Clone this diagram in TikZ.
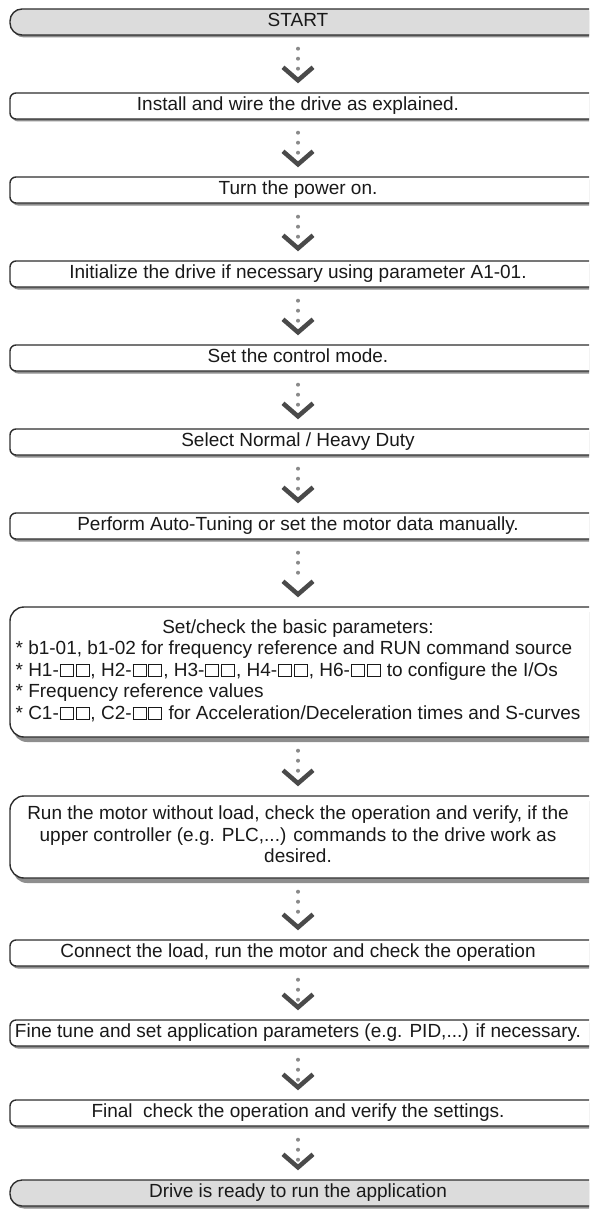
\documentclass[tikz,border=0pt]{standalone}
\usepackage{fontspec}
\setmainfont{Liberation Sans}
\usetikzlibrary{shadows,arrows.meta}
\definecolor{boxline}{HTML}{2E2E2E}
\definecolor{shadowgray}{HTML}{8E8E8E}
\definecolor{endgray}{HTML}{DCDCDC}
\definecolor{dotgray}{HTML}{8A8A8A}
\definecolor{chevgray}{HTML}{4A4A4A}
\newcommand\steptext[1]{\makebox[620pt][l]{\makebox[576pt]{#1}}}
\newcommand\sqbox{{\setlength\fboxrule{0.9pt}\setlength\fboxsep{0pt}%
  \kern1pt\fbox{\rule{0pt}{11.8pt}\rule{12pt}{0pt}}\kern1pt}}
\tikzset{
  boxbase/.style={draw=boxline, line width=1.4pt, fill=white, inner sep=0pt,
    text=black!90, font=\fontsize{19}{21.5}\selectfont},
  stepbox/.style={boxbase, rounded corners=6pt, minimum height=26pt,
    text height=13.5pt, text depth=4pt,
    drop shadow={shadow xshift=2pt, shadow yshift=-2.5pt, fill=shadowgray, opacity=1}},
  endbox/.style={stepbox, fill=endgray, rounded corners=12pt},
  bigbox/.style={boxbase, rounded corners=14pt,
    drop shadow={shadow xshift=3pt, shadow yshift=-5pt, fill=shadowgray, opacity=1}},
  flow/.style={draw=dotgray, line width=4pt, line cap=round,
    dash pattern=on 0pt off 10pt on 0pt off 10pt on 0pt off 300pt,
    shorten <=13pt, shorten >=9pt,
    -{Straight Barb[length=13pt, width=30pt, line width=4.5pt, color=chevgray]}}
}
\begin{document}
\begin{tikzpicture}[x=1pt,y=-1pt]
  \useasboundingbox (0,0) rectangle (589,1212);
  \clip (0,0) rectangle (589,1212);
  \coordinate (axis) at (298,0);
  \node[endbox] (start) at (320,22) {\steptext{START}};
  \node[stepbox] (install) at (320,106) {\steptext{Install and wire the drive as explained.}};
  \node[stepbox] (power) at (320,190) {\steptext{Turn the power on.}};
  \node[stepbox] (init) at (320,274) {\steptext{Initialize the drive if necessary using parameter A1-01.}};
  \node[stepbox] (mode) at (320,358) {\steptext{Set the control mode.}};
  \node[stepbox] (duty) at (320,442) {\steptext{Select Normal / Heavy Duty}};
  \node[stepbox] (tuning) at (320,526) {\steptext{Perform Auto-Tuning or set the motor data manually.}};
  \node[bigbox, minimum height=130pt] (basic) at (320,672) {\steptext{\begin{tabular}{@{}l@{}}
    \multicolumn{1}{@{}c@{}}{Set/check the basic parameters:}\\
    {*} b1-01, b1-02 for frequency reference and RUN command source\\
    {*} H1-\sqbox\sqbox, H2-\sqbox\sqbox, H3-\sqbox\sqbox, H4-\sqbox\sqbox, H6-\sqbox\sqbox{} to configure the I/Os\\
    {*} Frequency reference values\\
    {*} C1-\sqbox\sqbox, C2-\sqbox\sqbox{} for Acceleration/Deceleration times and S-curves
  \end{tabular}}};
  \node[bigbox, minimum height=82pt] (run) at (320,837) {\steptext{\begin{tabular}{@{}c@{}}
    Run the motor without load, check the operation and verify, if the\\
    upper controller (e.g. PLC,...) commands to the drive work as\\
    desired.
  \end{tabular}}};
  \node[stepbox] (load) at (320,953) {\steptext{Connect the load, run the motor and check the operation}};
  \node[stepbox] (tune) at (320,1033) {\steptext{Fine tune and set application parameters (e.g. PID,...) if necessary.}};
  \node[stepbox] (final) at (320,1113) {\steptext{Final~ check the operation and verify the settings.}};
  \node[endbox] (ready) at (320,1193) {\steptext{Drive is ready to run the application}};
  \foreach \a/\b in {start/install, install/power, power/init, init/mode, mode/duty,
      duty/tuning, tuning/basic, basic/run, run/load, load/tune, tune/final, final/ready}
    \draw[flow] (\a.south -| axis) -- (\b.north -| axis);
\end{tikzpicture}
\end{document}
